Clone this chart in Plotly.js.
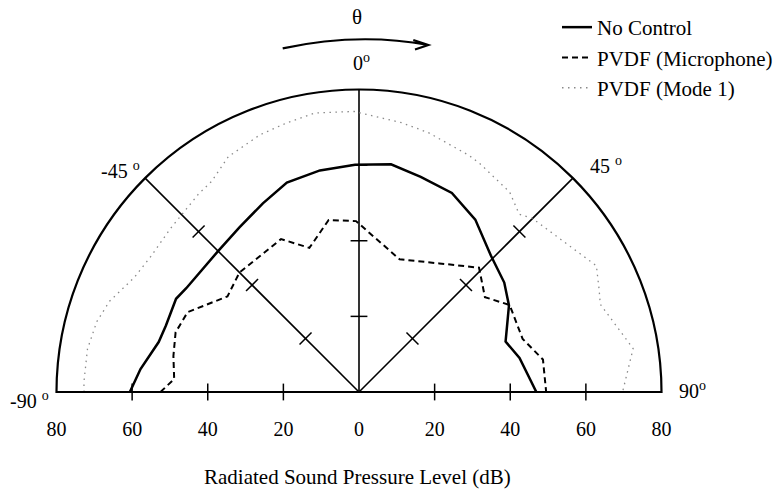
<!DOCTYPE html>
<html><head><meta charset="utf-8">
<script src="https://cdn.plot.ly/plotly-3.0.1.min.js"></script>
<style>html,body{margin:0;padding:0;background:#fff}#chart{width:781px;height:491px}</style>
</head><body><div id="chart"></div>
<script>
// ---- data (angle in degrees, level in dB) ----
const seriesNames = ['No Control', 'PVDF (Microphone)', 'PVDF (Mode 1)'];

const thetaNoControl = [-90, -84, -76, -71, -63, -59, -45, -36, -27, -19, -10, -1, 8, 16, 25, 34, 44, 53, 60, 71, 78, 90];
const rNoControl     = [60.6, 58.1, 54.6, 54.0, 54.3, 53.3, 52.7, 53.8, 56.0, 58.6, 59.5, 60.1, 60.8, 59.2, 58.1, 55.0, 50.2, 48.1, 45.8, 41.0, 43.4, 46.9];

const thetaMicrophone = [-90, -86, -79, -72, -65, -61, -54, -45, -27, -19, -10, -1, 17, 32, 44, 53, 60, 72, 80, 90];
const rMicrophone     = [52.5, 49.0, 50.0, 51.0, 50.0, 47.0, 43.0, 44.7, 45.4, 40.3, 46.2, 45.2, 36.7, 40.1, 45.7, 41.7, 46.0, 45.5, 49.4, 49.5];

const thetaMode1 = [-90, -88, -81, -75, -70, -63, -57, -49, -39, -35, -29, -21, -15, -9, -1, 9, 15, 25, 28, 37, 42, 45, 62, 67, 70, 81, 90];
const rMode1     = [72.7, 72.8, 72.7, 71.8, 70.2, 66.7, 65.7, 66.0, 67.4, 68.0, 71.2, 72.9, 73.7, 74.7, 74.2, 72.1, 71.0, 69.0, 68.3, 66.2, 63.3, 64.9, 71.1, 69.0, 67.9, 73.4, 69.7];

const gridAngles = [-90, -45, 0, 45, 90];
const crossRadii = [20, 40, 60];
const radialTickValues = [-80, -60, -40, -20, 0, 20, 40, 60, 80];
const radialTickLabels = ['80', '60', '40', '20', '0', '20', '40', '60', '80'];
const angleLabels = ['-90 <sup>o</sup>', '-45 <sup>o</sup>', '0<sup>o</sup>', '45 <sup>o</sup>', '90<sup>o</sup>'];
const axisTitle = 'Radiated Sound Pressure Level (dB)';
const thetaSymbol = 'θ';

// ---- styling ----
const FONT = 'Liberation Serif, Times New Roman, serif';
const W = 781, H = 491;
const px = (x) => x / W;
const py = (y) => 1 - y / H;

const polarDomain = {x: [px(56.5), px(661.5)], y: [py(392), py(89.5)]};

const crossSymbolFor = {'-90': 'line-ns', '-45': 'line-ne', '0': 'line-ew', '45': 'line-nw', '90': 'line-ns'};
const crossTheta = [], crossR = [], crossSym = [];
gridAngles.forEach(a => crossRadii.forEach(r => { crossTheta.push(a); crossR.push(r); crossSym.push(crossSymbolFor[String(a)]); }));

const traces = [
  {type: 'scatterpolar', subplot: 'polar', theta: crossTheta, r: crossR, mode: 'markers', cliponaxis: false,
   marker: {symbol: crossSym, size: 12, color: '#000', line: {color: '#000', width: 1.5}},
   showlegend: false, hoverinfo: 'skip'},
  {type: 'scatterpolar', subplot: 'polar', name: seriesNames[0], theta: thetaNoControl, r: rNoControl,
   mode: 'lines', line: {color: '#000', width: 2.5}},
  {type: 'scatterpolar', subplot: 'polar', name: seriesNames[1], theta: thetaMicrophone, r: rMicrophone,
   mode: 'lines', line: {color: '#000', width: 2, dash: '6px,4px'}},
  {type: 'scatterpolar', subplot: 'polar', name: seriesNames[2], theta: thetaMode1, r: rMode1,
   mode: 'lines', line: {color: '#8a8a8a', width: 1.3, dash: '1.5px,4.5px'}},
  // carrier for the level scale printed under the base line
  {type: 'scatter', x: [], y: [], xaxis: 'x', yaxis: 'y', showlegend: false, hoverinfo: 'skip'}
];

const labelPos = [[30, 400], [121, 170], [361, 62], [606, 165], [692, 390]];
const annotations = angleLabels.map((t, i) => ({
  text: t, xref: 'paper', yref: 'paper', x: px(labelPos[i][0]), y: py(labelPos[i][1]),
  xanchor: 'center', yanchor: 'middle', showarrow: false, font: {family: FONT, size: 20, color: '#000'}
}));
annotations.push({text: thetaSymbol, xref: 'paper', yref: 'paper', x: px(357), y: py(17),
  xanchor: 'center', yanchor: 'middle', showarrow: false, font: {family: FONT, size: 21, color: '#000'}});
annotations.push({text: axisTitle, xref: 'paper', yref: 'paper', x: px(357), y: py(477),
  xanchor: 'center', yanchor: 'middle', showarrow: false, font: {family: FONT, size: 21, color: '#000'}});

const arrowPath = `M ${px(282.7)} ${py(48.3)} Q ${px(358.5)} ${py(32)} ${px(428.3)} ${py(45)} ` +
                  `M ${px(413.3)} ${py(40)} L ${px(428.3)} ${py(45)} L ${px(415)} ${py(49.5)}`;

const layout = {
  width: W, height: H,
  margin: {l: 0, r: 0, t: 0, b: 0},
  paper_bgcolor: '#fff', plot_bgcolor: 'rgba(0,0,0,0)',
  font: {family: FONT, size: 20, color: '#000'},
  polar: {
    domain: polarDomain,
    sector: [0, 180],
    bgcolor: 'rgba(0,0,0,0)',
    angularaxis: {rotation: 90, direction: 'clockwise', tickvals: gridAngles, showgrid: true,
                  gridcolor: '#000', gridwidth: 1.6, showline: true, linecolor: '#000', linewidth: 2.2,
                  ticks: '', showticklabels: false},
    radialaxis: {range: [0, 80], showgrid: false, showline: true, linecolor: '#000', linewidth: 2,
                 ticks: '', showticklabels: false}
  },
  xaxis: {domain: polarDomain.x, range: [-80, 80], tickvals: radialTickValues, ticktext: radialTickLabels,
          ticks: '', showline: false, showgrid: false, zeroline: false, fixedrange: true,
          tickfont: {family: FONT, size: 20, color: '#000'}},
  yaxis: {domain: [py(415), 1], range: [0, 1], visible: false, fixedrange: true},
  showlegend: true,
  legend: {x: px(557), y: py(7), xanchor: 'left', yanchor: 'top', bgcolor: 'rgba(0,0,0,0)',
           font: {family: FONT, size: 21, color: '#000'}, itemwidth: 30},
  shapes: [{type: 'path', xref: 'paper', yref: 'paper', path: arrowPath, line: {color: '#000', width: 2.2}}],
  annotations: annotations
};

Plotly.newPlot('chart', traces, layout, {displayModeBar: false, staticPlot: true});
</script>
</body></html>
